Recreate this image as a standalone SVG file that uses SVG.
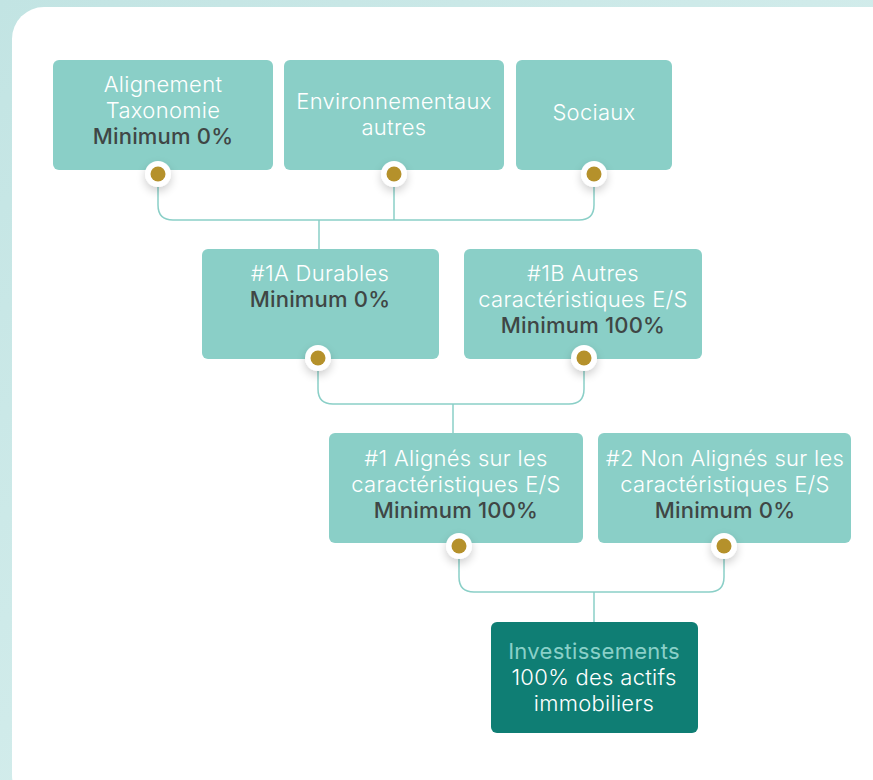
<svg xmlns="http://www.w3.org/2000/svg" width="873" height="780" viewBox="0 0 873 780">
<defs>
<linearGradient id="bg" x1="0" y1="0" x2="1" y2="1">
<stop offset="0" stop-color="#c2e4e3"/>
<stop offset="0.6" stop-color="#d4edec"/>
<stop offset="1" stop-color="#e4f3f2"/>
</linearGradient>
<filter id="sh" x="-100%" y="-100%" width="300%" height="300%">
<feGaussianBlur in="SourceAlpha" stdDeviation="5"/>
<feOffset dy="4"/>
<feComponentTransfer><feFuncA type="linear" slope="0.2"/></feComponentTransfer>
<feMerge><feMergeNode/><feMergeNode in="SourceGraphic"/></feMerge>
</filter>
<g id="dot">
<circle r="13" fill="#ffffff" filter="url(#sh)"/>
<circle r="7.5" fill="#b5912b"/>
</g>
</defs>
<style>
.box{fill:#8acfc7;}
.t{font-family:Inter,"Noto Sans",sans-serif;font-size:22px;font-weight:300;letter-spacing:0.3px;fill:#ffffff;text-anchor:middle;}
.b{font-family:Inter,"Noto Sans",sans-serif;font-size:22px;font-weight:500;letter-spacing:0.2px;fill:#3f4645;text-anchor:middle;}
.c{fill:none;stroke:#8acfc7;stroke-width:1.5;}
</style>
<rect width="873" height="780" fill="url(#bg)"/>
<rect x="12" y="7" width="900" height="800" rx="32" fill="#ffffff"/>

<g id="connectors">
<path class="c" d="M158,182 V205 Q158,220 173,220 H579 Q594,220 594,205 V182 M394,182 V220 M319,220 V249"/>
<path class="c" d="M318,366 V389 Q318,404 333,404 H569 Q584,404 584,389 V366 M453,404 V433"/>
<path class="c" d="M459,554 V577 Q459,592 474,592 H709 Q724,592 724,577 V554 M594,592 V622"/>
</g>

<g id="n-taxonomie">
<rect class="box" x="53" y="60" width="220" height="110" rx="6"/>
<text class="t" x="163" y="92">Alignement</text>
<text class="t" x="163" y="118">Taxonomie</text>
<text class="b" x="163" y="144">Minimum 0%</text>
</g>
<g id="n-env">
<rect class="box" x="284" y="60" width="220" height="110" rx="6"/>
<text class="t" x="394" y="109">Environnementaux</text>
<text class="t" x="394" y="135">autres</text>
</g>
<g id="n-sociaux">
<rect class="box" x="516" y="60" width="156" height="110" rx="6"/>
<text class="t" x="594" y="120">Sociaux</text>
</g>
<g id="n-1a">
<rect class="box" x="202" y="249" width="237" height="110" rx="6"/>
<text class="t" x="320" y="281">#1A Durables</text>
<text class="b" x="320" y="307">Minimum 0%</text>
</g>
<g id="n-1b">
<rect class="box" x="464" y="249" width="238" height="110" rx="6"/>
<text class="t" x="583" y="281">#1B Autres</text>
<text class="t" x="583" y="307">caractéristiques E/S</text>
<text class="b" x="583" y="333">Minimum 100%</text>
</g>
<g id="n-1">
<rect class="box" x="329" y="433" width="254" height="110" rx="6"/>
<text class="t" x="456" y="466">#1 Alignés sur les</text>
<text class="t" x="456" y="492">caractéristiques E/S</text>
<text class="b" x="456" y="518">Minimum 100%</text>
</g>
<g id="n-2">
<rect class="box" x="598" y="433" width="253" height="110" rx="6"/>
<text class="t" x="725" y="466">#2 Non Alignés sur les</text>
<text class="t" x="725" y="492">caractéristiques E/S</text>
<text class="b" x="725" y="518">Minimum 0%</text>
</g>
<g id="n-invest">
<rect x="491" y="622" width="207" height="111" rx="6" fill="#0f7e74"/>
<text class="t" x="594" y="659" style="fill:#8ad0c8;font-weight:400">Investissements</text>
<text class="t" x="594" y="685">100% des actifs</text>
<text class="t" x="594" y="711">immobiliers</text>
</g>

<g id="dots">
<use href="#dot" x="158" y="174"/>
<use href="#dot" x="394" y="174"/>
<use href="#dot" x="594" y="174"/>
<use href="#dot" x="318" y="358"/>
<use href="#dot" x="584" y="358"/>
<use href="#dot" x="459" y="546"/>
<use href="#dot" x="724" y="546"/>
</g>
</svg>
